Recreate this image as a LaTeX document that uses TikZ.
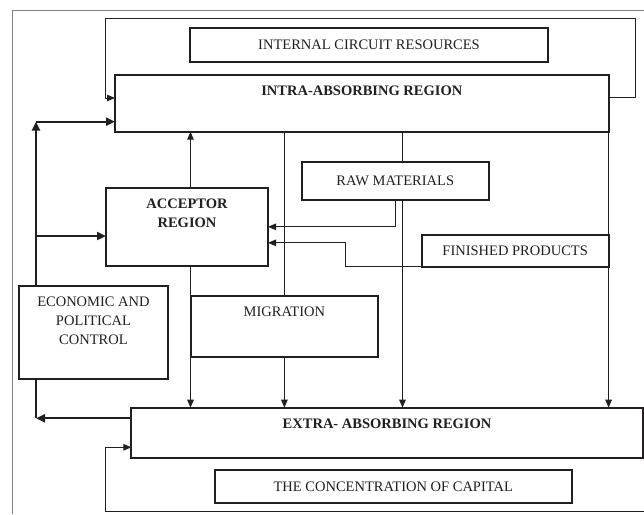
\documentclass[tikz,border=0pt]{standalone}
\usepackage{fontspec}
\setmainfont{Liberation Serif}
\usetikzlibrary{arrows.meta}
\definecolor{ink}{RGB}{35,31,32}
\newcommand{\diagfont}{\fontsize{14.5}{19.3}\selectfont}
\tikzset{
  box/.style={draw=ink, line width=2pt, fill=white, inner sep=0pt, outer sep=0pt,
    anchor=north west, text=ink, align=center},
  head/.style={label={[anchor=north, yshift=-10.5pt, inner sep=0pt, align=center,
    text=ink, font=\diagfont\bfseries]north:#1}},
  plainhead/.style={label={[anchor=north, yshift=-10.5pt, inner sep=0pt, align=center,
    text=ink, font=\diagfont]north:#1}},
  link/.style={draw=ink, line width=1pt},
  arr/.style={draw=ink, line width=1pt, -{Triangle[length=8pt,width=6.5pt]}},
  bigline/.style={draw=ink, line width=2.3pt},
  bigarr/.style={draw=ink, line width=2.3pt, -{Triangle[length=9pt,width=8pt]}}
}
\begin{document}
\begin{tikzpicture}[x=1pt, y=-1pt, font=\diagfont]
  \useasboundingbox (0,0) rectangle (644,514);
  \draw[gray, line width=0.7pt] (12.3,514) |- (644,10);

  \node[box, minimum width=358pt, minimum height=33.4pt] (icr) at (190,28.3)
    {INTERNAL CIRCUIT RESOURCES};
  \node[box, minimum width=493.6pt, minimum height=56.7pt,
    head={INTRA-ABSORBING REGION}] (intra) at (115,75) {};
  \node[box, minimum width=186.9pt, minimum height=38.3pt] (raw) at (301.8,161.7)
    {RAW MATERIALS};
  \node[box, minimum width=162pt, minimum height=78.3pt,
    head={ACCEPTOR\\REGION}] (acceptor) at (106,187.7) {};
  \node[box, minimum width=186.8pt, minimum height=31.7pt] (finished) at (421.8,235)
    {FINISHED PRODUCTS};
  \node[box, minimum width=149.9pt, minimum height=93.3pt,
    plainhead={ECONOMIC AND\\POLITICAL\\CONTROL}] (econ) at (18.5,286) {};
  \node[box, minimum width=186.8pt, minimum height=61pt,
    plainhead={MIGRATION}] (migration) at (191,295.7) {};
  \node[box, minimum width=511.3pt, minimum height=50.6pt,
    head={EXTRA- ABSORBING REGION}] (extra) at (131.4,407.7) {};
  \node[box, minimum width=356.9pt, minimum height=33.3pt] (capital) at (214.8,470)
    {THE CONCENTRATION OF CAPITAL};

  \coordinate (fbout) at ([yshift=-22.7pt]intra.north east);
  \coordinate (fbin) at ([yshift=-23pt]intra.north west);
  \coordinate (accline) at ([xshift=3.5pt]acceptor.north);
  \coordinate (rawline) at ([xshift=7.25pt]raw.north);
  \coordinate (spine) at ([xshift=17.5pt]econ.north west);
  \coordinate (spinetop) at ([yshift=10pt]intra.south west);
  \coordinate (accin) at ([yshift=-9.15pt]acceptor.west);
  \coordinate (finin) at ([yshift=-16pt]acceptor.east);
  \coordinate (econout) at ([xshift=17.5pt]econ.south west);
  \coordinate (extraout) at ([yshift=14.7pt]extra.west);
  \coordinate (capin) at ([yshift=-14.3pt]extra.west);
  \coordinate (capfree) at (644,511.7);

  \draw[arr] (fbout) -- ++(27.1,0) |- (105.5,18.3) |- (fbin);
  \draw[arr] (capfree) -| ([xshift=-25.9pt]capin) -- (capin);

  \draw[bigarr] (spine) -- (spine |- spinetop);
  \draw[bigarr] (spine |- spinetop) -- (spinetop);
  \draw[bigarr] (spine |- accin) -- (accin);
  \draw[bigline] (econout) -- (econout |- extraout);
  \draw[bigarr] (extraout) -- (econout |- extraout);

  \draw[arr] (acceptor.north -| accline) -- (intra.south -| accline);
  \draw[arr] (acceptor.south -| accline) -- (extra.north -| accline);
  \draw[link] (intra.south -| migration.north) -- (migration.north);
  \draw[arr] (migration.south) -- (migration.south |- extra.north);
  \draw[link] (intra.south -| rawline) -- (rawline);
  \draw[arr] (raw.south -| rawline) -- (extra.north -| rawline);
  \draw[arr] (intra.south east) -- (intra.south east |- extra.north);
  \draw[arr] (raw.south) |- (acceptor.east);
  \draw[arr] (finished.south west) -- ++(-76.8,0) |- (finin);
\end{tikzpicture}
\end{document}
